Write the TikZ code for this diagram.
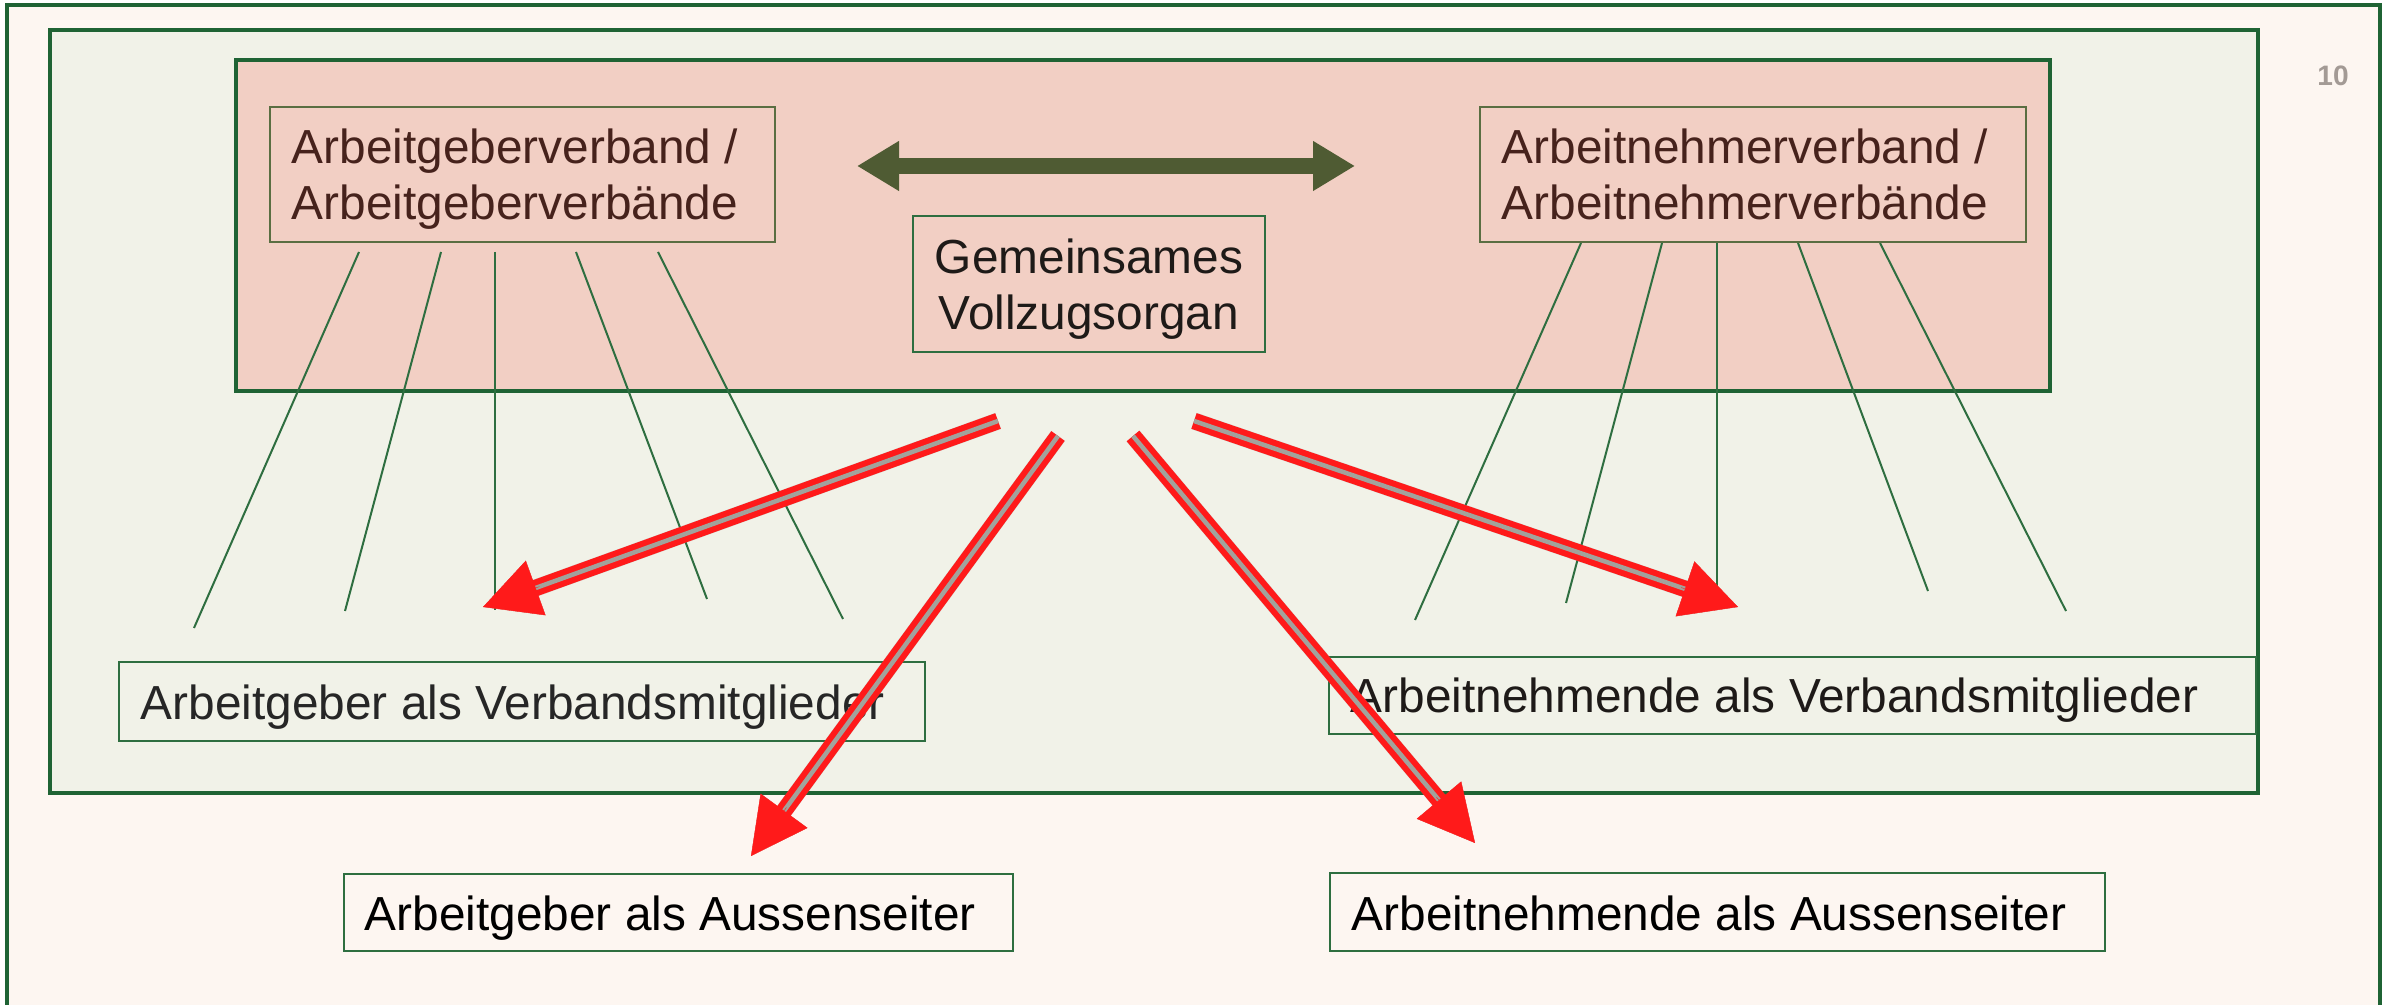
\documentclass[tikz,border=0pt]{standalone}
\usepackage{fontspec}
\setmainfont{Liberation Sans}
\usetikzlibrary{arrows.meta,calc}
\definecolor{bgcream}{HTML}{FDF6F1}
\definecolor{framegreen}{HTML}{1F6334}
\definecolor{lightgreen}{HTML}{F1F2E8}
\definecolor{pinkfill}{HTML}{F2CFC4}
\definecolor{boxgreen}{HTML}{2E6E40}
\definecolor{olivegreen}{HTML}{5A6E42}
\definecolor{arrowolive}{HTML}{4F5B33}
\definecolor{verbtext}{HTML}{46221C}
\definecolor{darktext}{HTML}{1E1A18}
\definecolor{pagegray}{HTML}{A39A95}
\definecolor{arrred}{HTML}{FF1A1A}
\definecolor{gapgray}{HTML}{A2A29C}
\newcommand{\redarrow}[2]{%
  \begin{scope}[shift={(3,5)}, opacity=0.35]
    \draw[gray, line width=1.7mm, shorten >=3.5mm] (#1) -- (#2);
    \draw[gray, line width=0.1pt, -{Triangle[length=5.6mm,width=5.8mm]}] ($(#2)!6mm!(#1)$) -- (#2);
  \end{scope}
  \draw[arrred, line width=0.6mm, double=gapgray, double distance=0.45mm, shorten >=3.5mm] (#1) -- (#2);
  \draw[arrred, line width=0.1pt, -{Triangle[length=5.6mm,width=5.8mm]}] ($(#2)!6mm!(#1)$) -- (#2);
}
\begin{document}
\begin{tikzpicture}[x=0.1mm,y=-0.1mm,
  bigframe/.style={draw=framegreen, line width=0.4mm, inner sep=0},
  smallbox/.style={draw=olivegreen, line width=0.2mm, inner sep=0},
  lowbox/.style={draw=boxgreen, line width=0.2mm, inner sep=0},
  txt/.style={inner sep=0, anchor=base west, font=\fontsize{13.6}{16}\selectfont},
  ctxt/.style={inner sep=0, anchor=base, font=\fontsize{13.6}{16}\selectfont},
  fanline/.style={draw=boxgreen, line width=0.2mm}]
\useasboundingbox (0,0) rectangle (2394,1005);
\clip (0,0) rectangle (2394,1005);
\fill[white] (0,0) rectangle (2394,1005);
% frames
\node[bigframe, fill=bgcream, minimum width=237.3mm, minimum height=101.5mm] (outer) at (1193.5,512.5) {};
\node[bigframe, fill=lightgreen, minimum width=220.8mm, minimum height=76.3mm] (green) at (1154,411.5) {};
\node[bigframe, fill=pinkfill, minimum width=181.4mm, minimum height=33.1mm] (pink) at (1143,225.5) {};
\node[inner sep=0, text=pagegray, font=\bfseries\fontsize{8}{9}\selectfont] (pagenum) at (2333,76) {10};
% fan line coordinates
\coordinate (la1) at (359,252); \coordinate (lb1) at (194,628);
\coordinate (la2) at (441,252); \coordinate (lb2) at (345,611);
\coordinate (la3) at (495,252); \coordinate (lb3) at (495,610);
\coordinate (la4) at (576,252); \coordinate (lb4) at (707,599);
\coordinate (la5) at (658,252); \coordinate (lb5) at (843,619);
\coordinate (ra1) at (1581,243); \coordinate (rb1) at (1415,620);
\coordinate (ra2) at (1662,243); \coordinate (rb2) at (1566,603);
\coordinate (ra3) at (1717,243); \coordinate (rb3) at (1717,587);
\coordinate (ra4) at (1798,243); \coordinate (rb4) at (1928,591);
\coordinate (ra5) at (1880,243); \coordinate (rb5) at (2066,611);
\foreach \i in {1,...,5} {
  \draw[fanline] (la\i) -- (lb\i);
  \draw[fanline] (ra\i) -- (rb\i);
}
% boxes
\node[smallbox, minimum width=50.5mm, minimum height=13.5mm] (agv) at (522.5,174.5) {};
\node[txt, text=verbtext] (agvA) at (291,164) {Arbeitgeberverband /};
\node[txt, text=verbtext] (agvB) at (291,220) {Arbeitgeberverbände};
\node[smallbox, minimum width=54.6mm, minimum height=13.5mm] (anv) at (1753,174.5) {};
\node[txt, text=verbtext] (anvA) at (1501,164) {Arbeitnehmerverband /};
\node[txt, text=verbtext] (anvB) at (1501,220) {Arbeitnehmerverbände};
\node[lowbox, minimum width=35.2mm, minimum height=13.6mm] (gv) at (1089,284) {};
\node[ctxt, text=darktext] (gvA) at (1089,274) {Gemeinsames};
\node[ctxt, text=darktext] (gvB) at (1089,330) {Vollzugsorgan};
\node[lowbox, minimum width=80.6mm, minimum height=7.9mm] (agm) at (522,701.5) {};
\node[txt, text=black!85] (agmT) at (140,720) {Arbeitgeber als Verbandsmitglieder};
\node[lowbox, minimum width=92.7mm, minimum height=7.7mm] (anm) at (1792.5,695.5) {};
\node[txt, text=darktext] (anmT) at (1350,713) {Arbeitnehmende als Verbandsmitglieder};
\node[lowbox, minimum width=66.9mm, minimum height=7.7mm] (aga) at (678.5,912.5) {};
\node[txt, text=black] (agaT) at (364,931) {Arbeitgeber als Aussenseiter};
\node[lowbox, minimum width=77.5mm, minimum height=7.8mm] (ana) at (1717.5,912) {};
\node[txt, text=black] (anaT) at (1351,931) {Arbeitnehmende als Aussenseiter};
% double arrow
\coordinate (dl) at (857,166);
\coordinate (dr) at (1355,166);
\draw[arrowolive, line width=1.6mm, {Triangle[length=4.2mm,width=4.7mm]}-{Triangle[length=4.2mm,width=4.7mm]}] (dl) -- (dr);
% red arrows
\coordinate (s1) at (998,421);  \coordinate (t1) at (483,607);
\coordinate (s2) at (1058,436); \coordinate (t2) at (751,856);
\coordinate (s3) at (1133,436); \coordinate (t3) at (1475,843);
\coordinate (s4) at (1194,421); \coordinate (t4) at (1738,607);
\redarrow{s1}{t1}
\redarrow{s2}{t2}
\redarrow{s3}{t3}
\redarrow{s4}{t4}
\end{tikzpicture}
\end{document}
